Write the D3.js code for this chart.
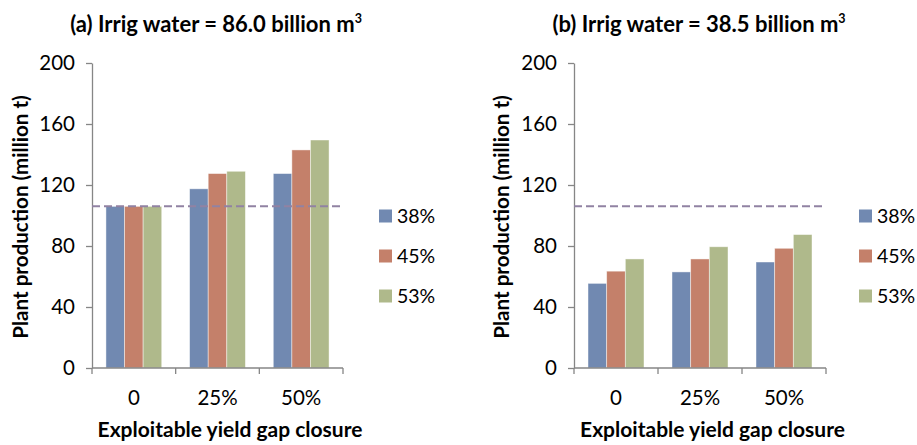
<!DOCTYPE html>
<html>
<head>
<meta charset="utf-8">
<script src="https://cdn.jsdelivr.net/npm/d3@7"></script>
<style>
  html, body { margin: 0; padding: 0; background: #fff; }
  svg { display: block; font-family: Lato, "Open Sans", sans-serif; }
</style>
</head>
<body>
<svg id="chart" width="917" height="445"></svg>
<script>
// Yield gap closure categories and irrigation-efficiency series
const categories = ["0", "25%", "50%"];
const seriesNames = ["38%", "45%", "53%"];
const seriesColors = ["#7189b1", "#c4806a", "#afb98b"];

// Plant production (million t), one array per series, per panel
const panelA_38 = [106, 117.5, 127.5];
const panelA_45 = [106, 127.5, 143];
const panelA_53 = [106, 129, 149.5];
const panelB_38 = [55.5, 63, 69.5];
const panelB_45 = [63.5, 71.5, 78.5];
const panelB_53 = [71.5, 79.5, 87.5];

// Current production reference level
const baseline = 106;

const yTicks = [0, 40, 80, 120, 160, 200];

const panels = [
  { title: "(a) Irrig water = 86.0 billion m", values: [panelA_38, panelA_45, panelA_53],
    left: 92, right: 343, legendX: 379, titleX: 216, yTitleX: 28 },
  { title: "(b) Irrig water = 38.5 billion m", values: [panelB_38, panelB_45, panelB_53],
    left: 574, right: 826, legendX: 859, titleX: 699, yTitleX: 509 }
];

const plotTop = 63, plotBottom = 368;
const axisColor = "#868686";
const tickFont = 20.5;
const svg = d3.select("#chart");

const y = d3.scaleLinear().domain([0, 200]).range([plotBottom, plotTop]);

panels.forEach(p => {
  const g = svg.append("g");

  const x = d3.scaleBand().domain(categories).range([p.left, p.right]).padding(0);
  const xs = d3.scaleBand().domain(seriesNames).range([0, x.bandwidth()])
    .paddingInner(0).paddingOuter(0.75);

  // bars
  seriesNames.forEach((s, si) => {
    g.selectAll(null)
      .data(categories.map((c, ci) => ({ c, v: p.values[si][ci] })))
      .join("rect")
      .attr("x", d => x(d.c) + xs(s))
      .attr("y", d => y(d.v))
      .attr("width", xs.bandwidth())
      .attr("height", d => y(0) - y(d.v))
      .attr("fill", seriesColors[si])
      .attr("stroke", "rgba(255,255,255,0.55)")
      .attr("stroke-width", 0.8);
  });

  // y axis
  const yAxis = d3.axisLeft(y).tickValues(yTicks).tickSize(6).tickSizeOuter(0).tickPadding(11);
  const ya = g.append("g").attr("transform", `translate(${p.left},0)`).call(yAxis);
  ya.select(".domain").attr("stroke", axisColor).attr("stroke-width", 1.3);
  ya.selectAll(".tick line").attr("stroke", axisColor).attr("stroke-width", 1.3);
  ya.selectAll(".tick text").attr("font-size", tickFont).attr("fill", "#000")
    .attr("font-family", "Lato, sans-serif");

  // x axis: line with ticks at category boundaries
  g.append("line").attr("x1", p.left).attr("x2", p.right)
    .attr("y1", plotBottom).attr("y2", plotBottom)
    .attr("stroke", axisColor).attr("stroke-width", 1.3);
  const bounds = categories.map(c => x(c)).concat([x(categories[categories.length - 1]) + x.bandwidth()]);
  g.selectAll(null).data(bounds).join("line")
    .attr("x1", d => d).attr("x2", d => d)
    .attr("y1", plotBottom).attr("y2", plotBottom + 6)
    .attr("stroke", axisColor).attr("stroke-width", 1.3);
  g.selectAll(null).data(categories).join("text")
    .attr("x", c => x(c) + x.bandwidth() / 2)
    .attr("y", 405)
    .attr("text-anchor", "middle")
    .attr("font-size", tickFont)
    .text(c => c);

  // baseline production level
  g.append("line").attr("x1", p.left).attr("x2", p.right)
    .attr("y1", y(baseline)).attr("y2", y(baseline))
    .attr("stroke", "#9182a3").attr("stroke-width", 2)
    .attr("stroke-dasharray", "8,4");

  // titles
  const t = g.append("text").attr("x", p.titleX).attr("y", 32)
    .attr("text-anchor", "middle").attr("font-weight", "bold").attr("font-size", 22)
    .text(p.title);
  t.append("tspan").attr("font-size", 12.5).attr("dy", -9).text("3");

  g.append("text").attr("x", (p.left + p.right) / 2 + 12.5).attr("y", 437)
    .attr("text-anchor", "middle").attr("font-weight", "bold").attr("font-size", 21)
    .text("Exploitable yield gap closure");

  g.append("text")
    .attr("transform", `translate(${p.yTitleX},${217}) rotate(-90)`)
    .attr("text-anchor", "middle").attr("font-weight", "bold").attr("font-size", 20.6)
    .text("Plant production (million t)");

  // legend
  const lg = g.append("g");
  const legendY = [216, 256, 296];
  seriesNames.forEach((s, i) => {
    lg.append("rect").attr("x", p.legendX).attr("y", legendY[i] - 6.5)
      .attr("width", 13).attr("height", 13).attr("fill", seriesColors[i]);
    lg.append("text").attr("x", p.legendX + 18).attr("y", legendY[i])
      .attr("dy", "0.35em").attr("font-size", 19.5).text(s);
  });
});
</script>
</body>
</html>
